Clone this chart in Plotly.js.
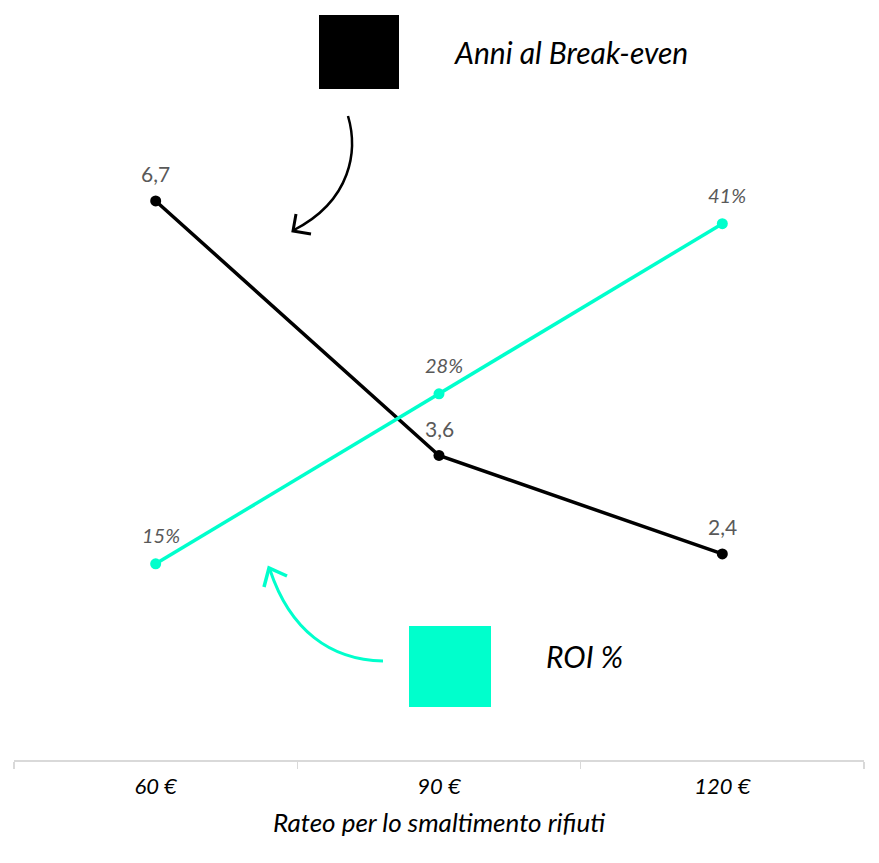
<!DOCTYPE html>
<html>
<head>
<meta charset="utf-8">
<script src="https://cdn.plot.ly/plotly-3.0.1.min.js"></script>
<style>
  html, body { margin: 0; padding: 0; background: #fff; }
  #chart { width: 879px; height: 863px; }
</style>
</head>
<body>
<div id="chart"></div>
<script>
const categories = ['60 €', '90 €', '120 €'];
const breakEvenYears = [6.7, 3.6, 2.4];
const roiPct = [0.15, 0.28, 0.41];
const breakEvenName = 'Anni al Break-even';
const roiName = 'ROI %';
const xTitle = 'Rateo per lo smaltimento rifiuti';

const BLACK = '#000000';
const CYAN = '#00FFCC';
const LABEL_GRAY = '#595959';
const FONT = 'Lato, "Open Sans", sans-serif';

// plot area in page pixels, used to place the decorations
const W = 879, H = 863;
const M = { l: 14, r: 15, t: 100, b: 103 };
const PW = W - M.l - M.r, PH = H - M.t - M.b;
const px = (x) => (x - M.l) / PW;
const py = (y) => (H - M.b - y) / PH;
function pathOf(pts) {
  return pts.map(([cmd, ...xy]) => {
    const parts = [];
    for (let i = 0; i < xy.length; i += 2) parts.push(px(xy[i]) + ',' + py(xy[i + 1]));
    return cmd + ' ' + parts.join(' ');
  }).join(' ');
}

const fmtDec = (v) => v.toFixed(1).replace('.', ',');
const fmtPct = (v) => Math.round(v * 100) + '%';

const traces = [
  {
    x: categories, y: breakEvenYears,
    type: 'scatter', mode: 'lines+markers',
    name: breakEvenName, yaxis: 'y',
    line: { color: BLACK, width: 3.5 },
    marker: { color: BLACK, size: 11 },
    hoverinfo: 'skip',
  },
  {
    x: categories, y: roiPct,
    type: 'scatter', mode: 'lines+markers',
    name: roiName, yaxis: 'y2',
    line: { color: CYAN, width: 3.5 },
    marker: { color: CYAN, size: 11 },
    hoverinfo: 'skip',
  },
];

const annotations = [];
categories.forEach((c, i) => {
  annotations.push({
    x: c, y: breakEvenYears[i], xref: 'x', yref: 'y',
    text: fmtDec(breakEvenYears[i]), showarrow: false, yshift: 27,
    font: { family: FONT, size: 21, color: LABEL_GRAY },
  });
  annotations.push({
    x: c, y: roiPct[i], xref: 'x', yref: 'y2',
    text: '<i>' + fmtPct(roiPct[i]) + '</i>', showarrow: false, yshift: 29, xshift: 5,
    font: { family: FONT, size: 20, color: LABEL_GRAY },
  });
});

// hand-made legend: squares with italic names beside them
annotations.push({
  x: px(452), y: py(52), xref: 'paper', yref: 'paper', xanchor: 'left', yanchor: 'middle',
  text: '<i>' + breakEvenName + '</i>', showarrow: false,
  font: { family: FONT, size: 30, color: BLACK },
});
annotations.push({
  x: px(544), y: py(656), xref: 'paper', yref: 'paper', xanchor: 'left', yanchor: 'middle',
  text: '<i>' + roiName + '</i>', showarrow: false,
  font: { family: FONT, size: 30, color: BLACK },
});

const shapes = [
  { type: 'rect', xref: 'paper', yref: 'paper', x0: px(319), x1: px(399), y0: py(89), y1: py(15),
    fillcolor: BLACK, line: { width: 0 } },
  { type: 'rect', xref: 'paper', yref: 'paper', x0: px(409), x1: px(491), y0: py(707), y1: py(626),
    fillcolor: CYAN, line: { width: 0 } },
  // curved arrow from the black square down to the black line
  { type: 'path', xref: 'paper', yref: 'paper',
    path: pathOf([['M', 348, 116], ['C', 358, 150, 352, 200, 294, 230]]),
    line: { color: BLACK, width: 2.5 } },
  { type: 'path', xref: 'paper', yref: 'paper',
    path: pathOf([['M', 296, 214], ['L', 293, 231], ['L', 311, 234]]),
    line: { color: BLACK, width: 3 } },
  // curved arrow from the cyan square up to the cyan line
  { type: 'path', xref: 'paper', yref: 'paper',
    path: pathOf([['M', 383, 661], ['C', 330, 660, 290, 630, 270, 570]]),
    line: { color: CYAN, width: 3 } },
  { type: 'path', xref: 'paper', yref: 'paper',
    path: pathOf([['M', 264, 587], ['L', 269, 568], ['L', 287, 576]]),
    line: { color: CYAN, width: 3.5 } },
];

const layout = {
  width: W, height: H,
  margin: M,
  paper_bgcolor: '#fff', plot_bgcolor: '#fff',
  showlegend: false,
  font: { family: FONT },
  xaxis: {
    type: 'category',
    range: [-0.5, 2.5],
    showline: true, linecolor: '#d9d9d9', linewidth: 1.5,
    ticks: 'outside', tickson: 'boundaries', ticklen: 7, tickcolor: '#d9d9d9', tickwidth: 1.5,
    showgrid: false, zeroline: false,
    tickfont: { family: FONT, size: 22, color: BLACK, style: 'italic' },
    ticklabelstandoff: 6,
    title: { text: '<i>' + xTitle + '</i>', font: { family: FONT, size: 26, color: BLACK }, standoff: 16 },
  },
  yaxis: {
    range: [-0.11, 7.93],
    visible: false, showgrid: false, zeroline: false,
  },
  yaxis2: {
    range: [0, 0.5046],
    overlaying: 'y', side: 'right',
    visible: false, showgrid: false, zeroline: false,
  },
  annotations,
  shapes,
};

Plotly.newPlot('chart', traces, layout, { displayModeBar: false, staticPlot: true });
</script>
</body>
</html>
